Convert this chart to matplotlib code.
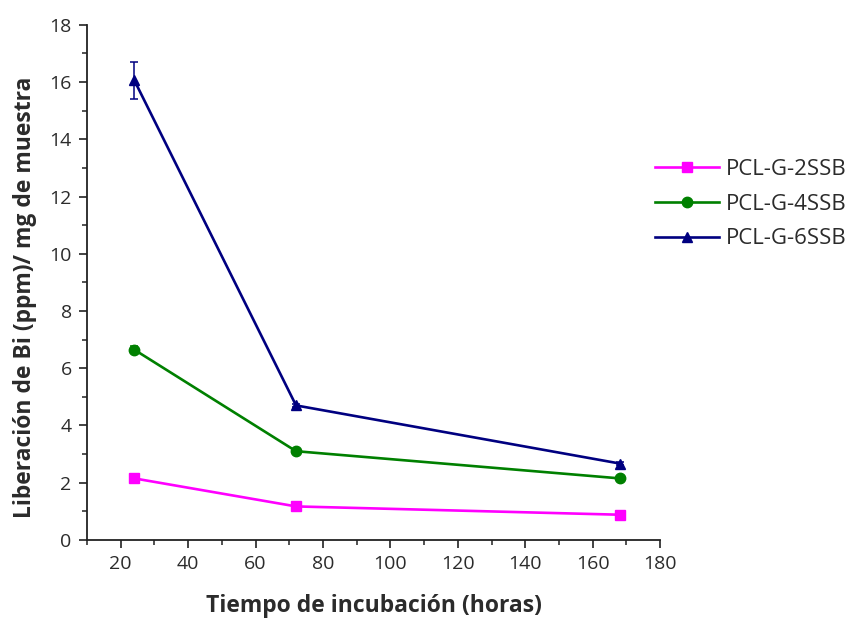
import matplotlib
matplotlib.use("Agg")
from matplotlib import pyplot as plt
from matplotlib.ticker import MultipleLocator

plt.rcParams['font.family'] = ['Open Sans', 'DejaVu Sans']

# incubation times (hours)
horas = [24, 72, 168]

# Bi release (ppm) per mg of sample, with std errors
ssb2 = [2.15, 1.17, 0.88]
ssb2_err = [0.04, 0.04, 0.04]
ssb4 = [6.65, 3.1, 2.15]
ssb4_err = [0.12, 0.05, 0.04]
ssb6 = [16.07, 4.7, 2.67]
ssb6_err = [0.65, 0.06, 0.05]

series_names = ["PCL-G-2SSB", "PCL-G-4SSB", "PCL-G-6SSB"]
text_color = "#2b2b2b"

fig = plt.figure(figsize=(8.49, 6.22), dpi=100)
ax = fig.add_axes([0.1025, 0.132, 0.675, 0.828])

styles = [("#FF00FF", "s"), ("#008000", "o"), ("#000080", "^")]
lines = []
for vals, errs, name, (col, mk) in zip([ssb2, ssb4, ssb6],
                                        [ssb2_err, ssb4_err, ssb6_err],
                                        series_names, styles):
    cont = ax.errorbar(horas, vals, yerr=errs, color=col, marker=mk,
                       markersize=7.5, linewidth=1.9, capsize=3,
                       elinewidth=1.1, capthick=1.1)
    lines.append(cont[0])

ax.set_xlim(10, 180)
ax.set_ylim(0, 18)
ax.xaxis.set_major_locator(MultipleLocator(20))
ax.xaxis.set_minor_locator(MultipleLocator(10))
ax.yaxis.set_major_locator(MultipleLocator(2))
ax.yaxis.set_minor_locator(MultipleLocator(1))

for side in ["top", "right"]:
    ax.spines[side].set_visible(False)
for side in ["left", "bottom"]:
    ax.spines[side].set_linewidth(1.3)
    ax.spines[side].set_color("#222222")

ax.tick_params(which="major", direction="out", length=6, width=1.2, pad=5,
               labelsize=14, labelcolor=text_color, color="#222222")
ax.tick_params(which="minor", direction="out", length=3.5, width=1.1,
               color="#222222")

ax.set_xlabel("Tiempo de incubación (horas)", fontsize=16.5,
              fontweight="bold", color=text_color, labelpad=15)
ax.set_ylabel("Liberación de Bi (ppm)/ mg de muestra", fontsize=16.5,
              fontweight="bold", color=text_color)
ax.yaxis.set_label_coords(-0.088, 0.471)

fig.legend(lines, series_names, loc="center left",
           bbox_to_anchor=(0.748, 0.672), frameon=False, fontsize=16,
           handlelength=2.9, labelspacing=0.62, handletextpad=0.3,
           labelcolor=text_color)

fig.savefig("out.png", dpi=100)
